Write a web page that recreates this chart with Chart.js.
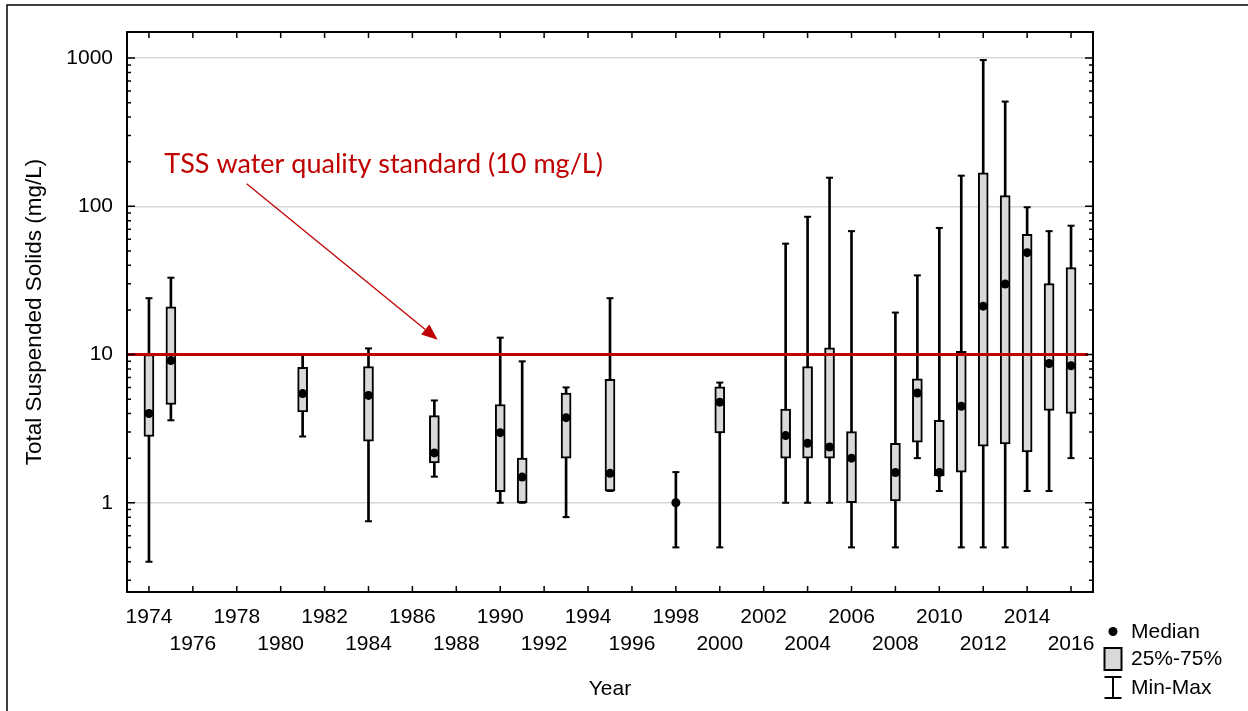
<!DOCTYPE html>
<html>
<head>
<meta charset="utf-8">
<script src="https://cdn.jsdelivr.net/npm/chart.js@4.4.1/dist/chart.umd.min.js"></script>
<style>
    html, body { margin: 0; padding: 0; background: #fff; }
    #wrap { position: relative; width: 1248px; height: 711px; }
</style>
</head>
<body>
<div id="wrap"><canvas id="tssChart"></canvas></div>
<script>
// Box plot values per sampling year (mg/L)
const years   = [1974, 1975, 1981, 1984, 1987, 1990, 1991, 1993, 1995, 1998, 2000, 2003, 2004, 2005, 2006, 2008, 2009, 2010, 2011, 2012, 2013, 2014, 2015, 2016];
const minVals = [0.4, 3.6, 2.8, 0.75, 1.5, 1.0, 1.0, 0.8, 1.2, 0.5, 0.5, 1.0, 1.0, 1.0, 0.5, 0.5, 2.0, 1.2, 0.5, 0.5, 0.5, 1.2, 1.2, 2.0];
const q1Vals  = [2.8, 4.6, 4.1, 2.6, 1.86, 1.19, 1.0, 2.0, 1.2, 1.0, 2.96, 2.0, 2.0, 2.0, 1.0, 1.03, 2.56, 1.52, 1.61, 2.41, 2.49, 2.2, 4.2, 4.0];
const medians = [4.0, 9.1, 5.45, 5.3, 2.17, 2.97, 1.49, 3.75, 1.58, 1.0, 4.77, 2.84, 2.52, 2.38, 2.0, 1.6, 5.5, 1.6, 4.48, 21.2, 29.9, 48.7, 8.7, 8.4];
const q3Vals  = [10, 21, 8.2, 8.3, 3.87, 4.6, 2.0, 5.5, 6.8, 1.0, 6.05, 4.29, 8.3, 11.1, 3.02, 2.52, 6.87, 3.6, 10.5, 168, 118, 64.7, 30.1, 38.6];
const maxVals = [24, 33, 10, 11, 4.9, 13, 9.0, 6.0, 24, 1.61, 6.47, 56, 85, 156, 68, 19.2, 34.2, 71.5, 161, 970, 509, 98.6, 68, 74];

const yearTicks = [1974, 1976, 1978, 1980, 1982, 1984, 1986, 1988, 1990, 1992, 1994, 1996, 1998, 2000, 2002, 2004, 2006, 2008, 2010, 2012, 2014, 2016];
const yLabelTicks = [1, 10, 100, 1000];

const standardValue = 10;
const standardLabel = 'TSS water quality standard (10 mg/L)';

const RED = '#c00000';
const BOX_FILL = '#d9d9d9';
const FONT = "'Liberation Sans', Arial, sans-serif";

// annotation placement in data units
const note = { textX: 1974.7, textY: 169, arrowFromX: 1978.45, arrowFromY: 142, arrowToX: 1987.15, arrowToY: 12.6 };

const frameAndTicks = {
    id: 'frameAndTicks',
    afterDatasetsDraw(chart) {
        const { ctx, chartArea: a, scales: { x, y } } = chart;
        ctx.save();
        ctx.strokeStyle = '#000';
        ctx.lineWidth = 1.5;
        ctx.beginPath();
        yearTicks.forEach(v => {
            const px = x.getPixelForValue(v);
            ctx.moveTo(px, a.bottom); ctx.lineTo(px, a.bottom - 6);
            ctx.moveTo(px, a.top); ctx.lineTo(px, a.top + 6);
        });
        [0.1, 1, 10, 100, 1000].forEach(d => {
            for (let m = 1; m <= 9; m++) {
                const v = d * m;
                if (v < y.min || v > y.max) continue;
                const len = m === 1 ? 8 : 4;
                const py = y.getPixelForValue(v);
                ctx.moveTo(a.left, py); ctx.lineTo(a.left + len, py);
                ctx.moveTo(a.right, py); ctx.lineTo(a.right - len, py);
            }
        });
        ctx.stroke();
        ctx.lineWidth = 2;
        ctx.strokeRect(a.left, a.top, a.width, a.height);
        ctx.restore();
    },
    afterDraw(chart) {
        const { ctx, chartArea: a, scales: { x, y } } = chart;
        ctx.save();
        // outer figure frame
        ctx.strokeStyle = '#000';
        ctx.lineWidth = 1.5;
        ctx.beginPath();
        ctx.moveTo(7, chart.height);
        ctx.lineTo(7, 5);
        ctx.lineTo(chart.width, 5);
        ctx.stroke();

        // standard annotation
        ctx.fillStyle = RED;
        ctx.font = "27px Lato, 'Open Sans', sans-serif";
        ctx.textBaseline = 'alphabetic';
        ctx.textAlign = 'left';
        ctx.fillText(standardLabel, x.getPixelForValue(note.textX), y.getPixelForValue(note.textY));

        const x0 = x.getPixelForValue(note.arrowFromX), y0 = y.getPixelForValue(note.arrowFromY);
        const x1 = x.getPixelForValue(note.arrowToX), y1 = y.getPixelForValue(note.arrowToY);
        const ang = Math.atan2(y1 - y0, x1 - x0);
        const headLen = 16, headHalf = 6.5;
        const bx = x1 - headLen * Math.cos(ang), by = y1 - headLen * Math.sin(ang);
        ctx.strokeStyle = RED;
        ctx.lineWidth = 1.3;
        ctx.beginPath();
        ctx.moveTo(x0, y0);
        ctx.lineTo(bx, by);
        ctx.stroke();
        ctx.beginPath();
        ctx.moveTo(x1, y1);
        ctx.lineTo(bx + headHalf * Math.sin(ang), by - headHalf * Math.cos(ang));
        ctx.lineTo(bx - headHalf * Math.sin(ang), by + headHalf * Math.cos(ang));
        ctx.closePath();
        ctx.fill();

        // legend
        const lx = a.right + 20, tx = a.right + 38;
        ctx.fillStyle = '#000';
        ctx.strokeStyle = '#000';
        ctx.font = '21px ' + FONT;
        ctx.textBaseline = 'middle';
        ctx.beginPath();
        ctx.arc(lx, a.bottom + 39.5, 4.5, 0, Math.PI * 2);
        ctx.fill();
        ctx.fillText('Median', tx, a.bottom + 40);

        ctx.fillStyle = BOX_FILL;
        ctx.fillRect(lx - 8.5, a.bottom + 56, 17, 22);
        ctx.lineWidth = 2;
        ctx.strokeRect(lx - 8.5, a.bottom + 56, 17, 22);
        ctx.fillStyle = '#000';
        ctx.fillText('25%-75%', tx, a.bottom + 67);

        ctx.beginPath();
        ctx.moveTo(lx, a.bottom + 85); ctx.lineTo(lx, a.bottom + 106);
        ctx.moveTo(lx - 8.5, a.bottom + 85); ctx.lineTo(lx + 8.5, a.bottom + 85);
        ctx.moveTo(lx - 8.5, a.bottom + 106); ctx.lineTo(lx + 8.5, a.bottom + 106);
        ctx.stroke();
        ctx.fillText('Min-Max', tx, a.bottom + 96);
        ctx.restore();
    }
};

const ctx = document.getElementById('tssChart').getContext('2d');

new Chart(ctx, {
    type: 'bar',
    data: {
        datasets: [
            {
                type: 'scatter',
                label: 'Median',
                data: years.map((yr, i) => ({ x: yr, y: medians[i] })),
                pointRadius: 4.5,
                pointBackgroundColor: '#000',
                pointBorderWidth: 0,
                order: 0
            },
            {
                type: 'line',
                label: 'Standard',
                data: [{ x: 1973, y: standardValue }, { x: 2016.77, y: standardValue }],
                borderColor: RED,
                borderWidth: 3,
                pointRadius: 0,
                fill: false,
                order: 1
            },
            {
                type: 'scatter',
                label: 'Caps',
                data: years.flatMap((yr, i) => [{ x: yr, y: minVals[i] }, { x: yr, y: maxVals[i] }]),
                pointStyle: 'line',
                pointRadius: 3.5,
                pointBorderWidth: 2,
                pointBorderColor: '#000',
                order: 2
            },
            {
                type: 'bar',
                label: '25%-75%',
                data: years.map((yr, i) => ({ x: yr, y: [q1Vals[i], q3Vals[i]] })),
                backgroundColor: BOX_FILL,
                borderColor: '#000',
                borderWidth: 2,
                borderSkipped: false,
                barThickness: 10,
                grouped: false,
                order: 3
            },
            {
                type: 'bar',
                label: 'Min-Max',
                data: years.map((yr, i) => ({ x: yr, y: [minVals[i], maxVals[i]] })),
                backgroundColor: '#000',
                borderWidth: 0,
                barThickness: 2,
                grouped: false,
                order: 4
            }
        ]
    },
    options: {
        responsive: true,
        maintainAspectRatio: false,
        animation: false,
        layout: { padding: { left: 0, right: 155, top: 32, bottom: 0 } },
        plugins: {
            legend: { display: false },
            tooltip: { enabled: false }
        },
        scales: {
            x: {
                type: 'linear',
                min: 1973,
                max: 2017,
                offset: false,
                grid: { display: false, offset: false, drawTicks: false },
                border: { display: false },
                afterBuildTicks: (scale) => { scale.ticks = yearTicks.map(v => ({ value: v })); },
                afterFit: (scale) => { scale.height = 119; },
                ticks: {
                    autoSkip: false,
                    maxRotation: 0,
                    padding: 12,
                    color: '#000',
                    font: { family: FONT, size: 21, lineHeight: '27px' },
                    callback: function(value, index) {
                        return index % 2 === 0 ? [String(value), ''] : ['', String(value)];
                    }
                },
                title: {
                    display: true,
                    text: 'Year',
                    color: '#000',
                    font: { family: FONT, size: 21 },
                    padding: { bottom: 9 }
                }
            },
            y: {
                type: 'logarithmic',
                min: 0.25,
                max: 1500,
                grid: { color: '#d6d6d6', lineWidth: 1.5, drawTicks: false },
                border: { display: false },
                afterBuildTicks: (scale) => { scale.ticks = yLabelTicks.map(v => ({ value: v })); },
                afterFit: (scale) => { scale.width = 127; },
                ticks: {
                    padding: 14,
                    color: '#000',
                    font: { family: FONT, size: 21 },
                    callback: (value) => String(value)
                },
                title: {
                    display: true,
                    text: 'Total Suspended Solids (mg/L)',
                    color: '#000',
                    font: { family: FONT, size: 22.5 },
                    padding: { top: 21 }
                }
            }
        }
    },
    plugins: [frameAndTicks]
});
</script>
</body>
</html>
